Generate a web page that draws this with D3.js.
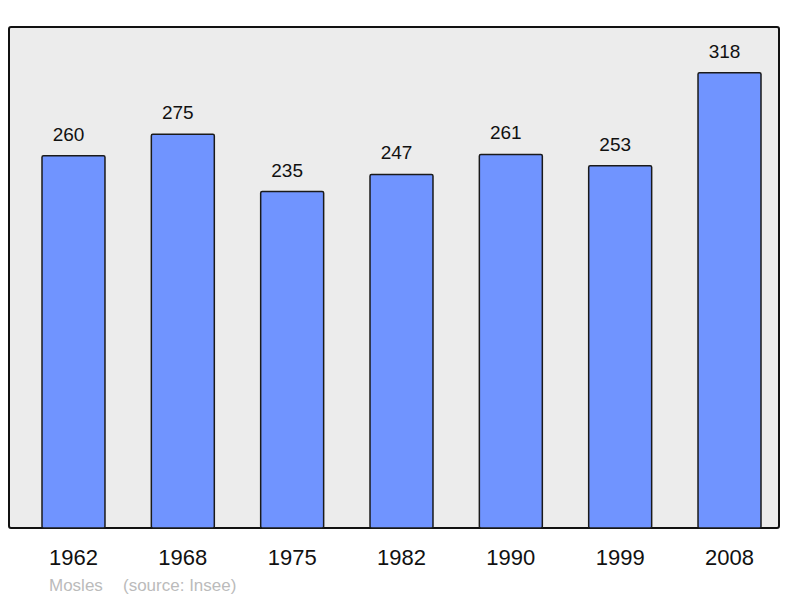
<!DOCTYPE html>
<html>
<head>
<meta charset="utf-8">
<script src="https://cdn.jsdelivr.net/npm/d3@7"></script>
<style>
  body { margin: 0; background: #fff; }
  text { font-family: "Liberation Sans", Arial, sans-serif; }
</style>
</head>
<body>
<div id="chart"></div>
<script>

// Population by census year
const years = ["1962", "1968", "1975", "1982", "1990", "1999", "2008"];
const population = [260, 275, 235, 247, 261, 253, 318];
const commune = "Mosles";
const source = "(source: Insee)";

let width = 800,
    height = 598,
    frame = { left: 9, top: 27, right: 779, bottom: 528 };

let svg = d3.select("#chart")
    .append("svg")
    .attr("width", width)
    .attr("height", height);

// Grey plot background with border
svg.append("rect")
    .attr("x", frame.left)
    .attr("y", frame.top)
    .attr("width", frame.right - frame.left)
    .attr("height", frame.bottom - frame.top)
    .attr("rx", 2)
    .attr("fill", "#ececec")
    .attr("stroke", "#111")
    .attr("stroke-width", 2);

let x = d3.scaleBand()
    .domain(years)
    .range([42, 761])
    .paddingInner(0.424)
    .paddingOuter(0);

let y = d3.scaleLinear()
    .domain([0, 350])
    .range([frame.bottom, frame.top]);

// Bars
svg.selectAll(".bar")
    .data(population)
    .enter()
    .append("rect")
    .attr("class", "bar")
    .attr("x", (d, i) => x(years[i]))
    .attr("y", d => y(d))
    .attr("width", x.bandwidth())
    .attr("height", d => y(0) - y(d))
    .attr("rx", 1.5)
    .attr("fill", "#7094ff")
    .attr("stroke", "#1a1a1a")
    .attr("stroke-width", 1.5);

// Value labels
svg.selectAll(".value")
    .data(population)
    .enter()
    .append("text")
    .attr("class", "value")
    .attr("x", (d, i) => x(years[i]) + x.bandwidth() / 2 - 5)
    .attr("y", d => y(d) - 15)
    .attr("text-anchor", "middle")
    .attr("font-size", 19)
    .attr("fill", "#111")
    .text(d => d);

// Year axis (labels only)
let axis = svg.append("g")
    .attr("transform", `translate(0,${frame.bottom})`)
    .call(d3.axisBottom(x).tickSize(0).tickPadding(37));

axis.select(".domain").remove();
axis.selectAll("text")
    .attr("font-size", 22)
    .attr("fill", "#111")
    .attr("dy", 0);

// Footer
svg.append("text")
    .attr("x", 49)
    .attr("y", 591)
    .attr("font-size", 17)
    .attr("fill", "#bbb")
    .text(commune);

svg.append("text")
    .attr("x", 123)
    .attr("y", 591)
    .attr("font-size", 17)
    .attr("fill", "#bbb")
    .text(source);

</script>
</body>
</html>
